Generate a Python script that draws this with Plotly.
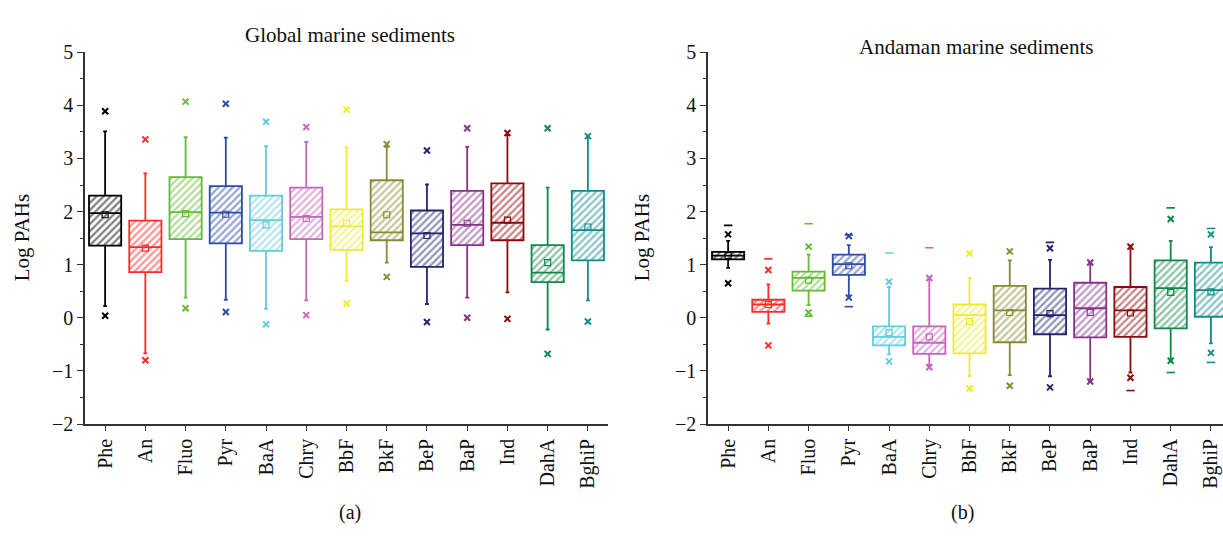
import plotly.graph_objects as go

compounds = ["Phe", "An", "Fluo", "Pyr", "BaA", "Chry", "BbF", "BkF", "BeP", "BaP", "Ind", "DahA", "BghiP"]
colors = ["#000000", "#ff2a2a", "#66bb33", "#2d4ca8", "#66ccdd", "#c566b8", "#eeea33",
          "#8a8a33", "#25256f", "#86338a", "#8b0a0a", "#11884a", "#138a8a"]

# (a) Global marine sediments
g_q1 = [1.36, 0.86, 1.48, 1.40, 1.26, 1.48, 1.28, 1.46, 0.96, 1.37, 1.46, 0.67, 1.08]
g_med = [1.97, 1.33, 1.99, 1.98, 1.84, 1.90, 1.72, 1.61, 1.59, 1.75, 1.79, 0.85, 1.65]
g_q3 = [2.30, 1.83, 2.65, 2.48, 2.30, 2.45, 2.04, 2.59, 2.02, 2.39, 2.53, 1.37, 2.39]
g_lo = [0.22, -0.67, 0.38, 0.34, 0.17, 0.33, 0.69, 1.04, 0.26, 0.38, 0.48, -0.22, 0.33]
g_hi = [3.51, 2.72, 3.40, 3.39, 3.23, 3.31, 3.21, 3.22, 2.51, 3.22, 3.44, 2.45, 3.40]
g_mean = [1.94, 1.31, 1.96, 1.95, 1.75, 1.87, 1.78, 1.94, 1.55, 1.78, 1.84, 1.04, 1.71]
g_p99 = [3.89, 3.36, 4.07, 4.03, 3.69, 3.59, 3.92, 3.27, 3.15, 3.57, 3.48, 3.57, 3.42]
g_p1 = [0.04, -0.80, 0.18, 0.11, -0.12, 0.05, 0.27, 0.77, -0.08, 0.00, -0.02, -0.68, -0.07]

# (b) Andaman marine sediments
a_q1 = [1.10, 0.11, 0.51, 0.81, -0.52, -0.68, -0.67, -0.46, -0.31, -0.37, -0.36, -0.20, 0.02]
a_med = [1.17, 0.25, 0.75, 1.01, -0.36, -0.47, 0.05, 0.14, 0.05, 0.18, 0.14, 0.56, 0.52]
a_q3 = [1.24, 0.34, 0.87, 1.19, -0.16, -0.16, 0.25, 0.60, 0.55, 0.66, 0.58, 1.08, 1.04]
a_lo = [0.94, -0.11, 0.24, 0.40, -0.69, -0.89, -1.10, -1.08, -1.10, -1.19, -1.03, -0.81, -0.48]
a_hi = [1.45, 0.63, 1.19, 1.37, 0.58, 0.73, 0.75, 1.08, 1.09, 1.04, 1.36, 1.45, 1.33]
a_mean = [1.17, 0.25, 0.71, 0.98, -0.28, -0.36, -0.07, 0.10, 0.08, 0.10, 0.09, 0.48, 0.49]
a_p99 = [1.57, 0.90, 1.34, 1.54, 0.68, 0.75, 1.21, 1.25, 1.31, 1.04, 1.34, 1.86, 1.57]
a_p1 = [0.65, -0.52, 0.10, 0.38, -0.82, -0.93, -1.33, -1.28, -1.31, -1.20, -1.13, -0.81, -0.66]
a_max = [1.74, 1.11, 1.77, 1.56, 1.22, 1.32, None, None, 1.42, None, None, 2.07, 1.68]
a_min = [None, None, 0.03, 0.21, None, None, None, None, None, None, -1.37, -1.03, -0.84]

FONT = "Liberation Serif"
fig = go.Figure()
pos = list(range(len(compounds)))


def add_panel(xa, ya, q1, med, q3, lo, hi, mean, p99, p1, mx=None, mn=None):
    # hatched fill
    fig.add_trace(go.Bar(
        x=pos, y=[b - a for a, b in zip(q1, q3)], base=q1, width=0.8,
        marker=dict(color="white", line=dict(width=0),
                    pattern=dict(shape="/", fgcolor=colors, bgcolor="white",
                                 size=5, solidity=0.45)),
        xaxis=xa, yaxis=ya, showlegend=False, hoverinfo="skip"))
    for i, c in enumerate(compounds):
        fig.add_trace(go.Box(
            x=[i], q1=[q1[i]], median=[med[i]], q3=[q3[i]],
            lowerfence=[lo[i]], upperfence=[hi[i]], width=0.8,
            whiskerwidth=0.12, fillcolor="rgba(0,0,0,0)",
            line=dict(color=colors[i], width=1.8),
            xaxis=xa, yaxis=ya, showlegend=False, name=c, boxpoints=False))
    fig.add_trace(go.Scatter(
        x=pos, y=mean, mode="markers",
        marker=dict(symbol="square-open", size=6, color=colors,
                    line=dict(color=colors, width=1.2)),
        xaxis=xa, yaxis=ya, showlegend=False))
    fig.add_trace(go.Scatter(
        x=pos + pos, y=p99 + p1, mode="markers",
        marker=dict(symbol="x-thin", size=6, color=colors + colors,
                    line=dict(color=colors + colors, width=2)),
        xaxis=xa, yaxis=ya, showlegend=False))
    if mx is not None:
        xs, ys, cs = [], [], []
        for i in pos:
            for v in (mx[i], mn[i]):
                if v is not None:
                    xs.append(i); ys.append(v); cs.append(colors[i])
        fig.add_trace(go.Scatter(
            x=xs, y=ys, mode="markers",
            marker=dict(symbol="line-ew", size=6, color=cs,
                        line=dict(color=cs, width=1.6)),
            xaxis=xa, yaxis=ya, showlegend=False))


add_panel("x", "y", g_q1, g_med, g_q3, g_lo, g_hi, g_mean, g_p99, g_p1)
add_panel("x2", "y2", a_q1, a_med, a_q3, a_lo, a_hi, a_mean, a_p99, a_p1, a_max, a_min)

ydom = [1 - 430.7 / 536, 1 - 43 / 536]
xcommon = dict(tickmode="array", tickvals=pos, ticktext=compounds, tickangle=-90,
               ticks="outside", ticklen=5, tickwidth=1.3, tickcolor="#333",
               showline=True, linecolor="#333", linewidth=1.5, showgrid=False,
               zeroline=False, tickfont=dict(family=FONT, size=20, color="#111"))
ycommon = dict(range=[-2, 5], tickvals=[-2, -1, 0, 1, 2, 3, 4, 5],
               ticktext=["\u22122", "\u22121", "0", "1", "2", "3", "4", "5"],
               ticks="outside", ticklen=6, tickwidth=1.3, tickcolor="#333",
               minor=dict(dtick=0.5, ticks="outside", ticklen=3, tickcolor="#333", tickwidth=1.2),
               showline=True, linecolor="#333", linewidth=1.5, showgrid=False,
               zeroline=False, tickfont=dict(family=FONT, size=20, color="#111"),
               domain=ydom)

fig.update_layout(
    width=1223, height=536, margin=dict(l=0, r=0, t=0, b=0),
    paper_bgcolor="white", plot_bgcolor="white",
    barmode="overlay", boxmode="overlay",
    xaxis=dict(xcommon, domain=[85 / 1223, 608 / 1223], range=[-0.5, 12.5]),
    xaxis2=dict(xcommon, domain=[708 / 1223, 1.0], range=[-0.5, 12.3]),
    yaxis=dict(ycommon, anchor="x"),
    yaxis2=dict(ycommon, anchor="x2"),
    font=dict(family=FONT, color="#111"),
    annotations=[
        dict(text="Global marine sediments", x=350 / 1223, y=1 - 25 / 536, xref="paper", yref="paper",
             showarrow=False, font=dict(family=FONT, size=21), xanchor="center", yanchor="middle"),
        dict(text="Andaman marine sediments", x=976 / 1223, y=1 - 38 / 536, xref="paper", yref="paper",
             showarrow=False, font=dict(family=FONT, size=21), xanchor="center", yanchor="middle"),
        dict(text="Log PAHs", x=22 / 1223, y=1 - 237 / 536, xref="paper", yref="paper", textangle=-90,
             showarrow=False, font=dict(family=FONT, size=21), xanchor="center", yanchor="middle"),
        dict(text="Log PAHs", x=642 / 1223, y=1 - 237 / 536, xref="paper", yref="paper", textangle=-90,
             showarrow=False, font=dict(family=FONT, size=21), xanchor="center", yanchor="middle"),
        dict(text="(a)", x=350 / 1223, y=1 - 523 / 536, xref="paper", yref="paper",
             showarrow=False, font=dict(family=FONT, size=20), xanchor="center", yanchor="middle"),
        dict(text="(b)", x=962 / 1223, y=1 - 523 / 536, xref="paper", yref="paper",
             showarrow=False, font=dict(family=FONT, size=20), xanchor="center", yanchor="middle"),
    ],
)

fig.write_html("out.html")
